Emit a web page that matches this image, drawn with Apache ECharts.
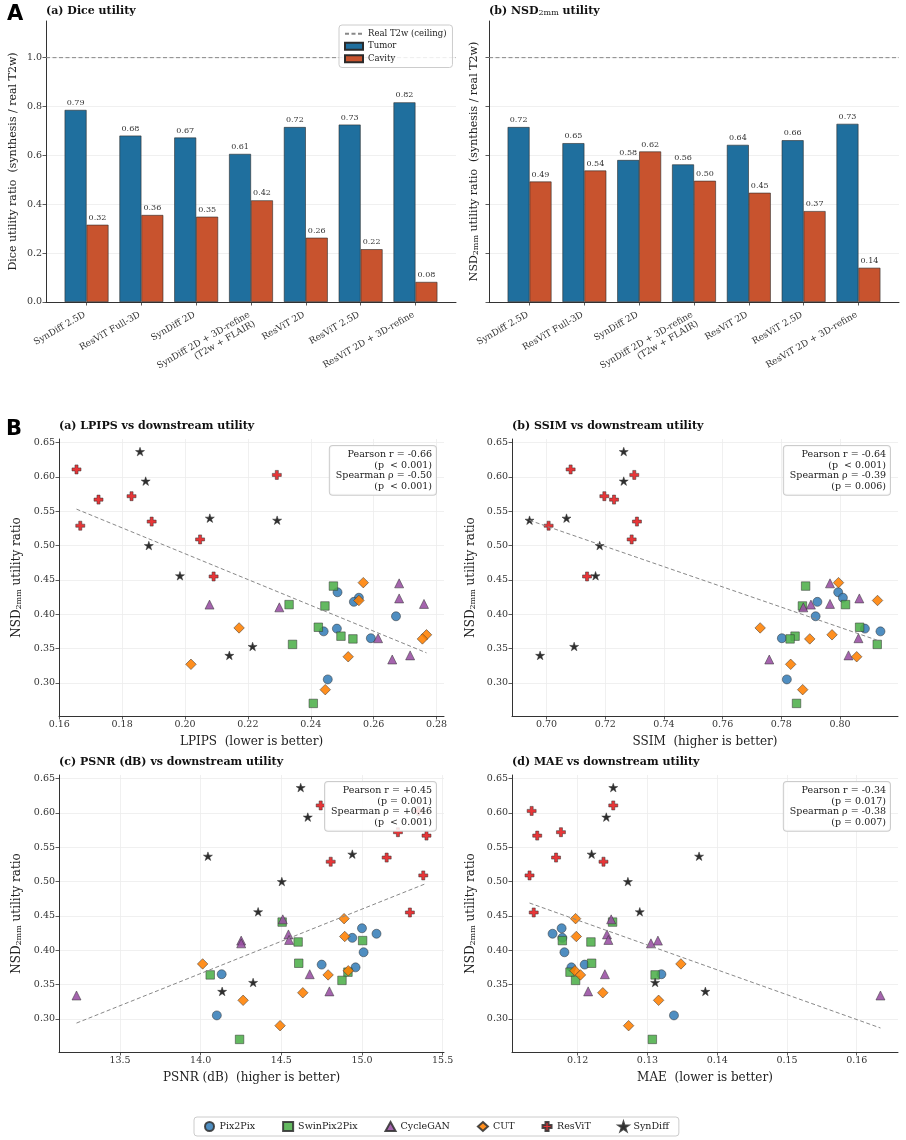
<!DOCTYPE html>
<html>
<head>
<meta charset="utf-8">
<title>Synthesis downstream utility</title>
<script src="https://cdn.jsdelivr.net/npm/echarts@6/dist/echarts.min.js"></script>
<style>
  html, body { margin: 0; padding: 0; background: #fff; }
  #chart { width: 906px; height: 1140px; }
</style>
</head>
<body>
<div id="chart"></div>
<script>
// ---- Panel A: segmentation utility of each synthesis pipeline ----
const methods = ['SynDiff 2.5D', 'ResViT Full-3D', 'SynDiff 2D', 'SynDiff 2D + 3D-refine\n(T2w + FLAIR)',
  'ResViT 2D', 'ResViT 2.5D', 'ResViT 2D + 3D-refine'];
const diceTumor = [0.786, 0.681, 0.673, 0.606, 0.716, 0.726, 0.817];
const diceCavity = [0.316, 0.356, 0.349, 0.416, 0.263, 0.216, 0.082];
const nsdTumor = [0.716, 0.650, 0.581, 0.563, 0.643, 0.662, 0.729];
const nsdCavity = [0.493, 0.538, 0.616, 0.496, 0.447, 0.372, 0.140];
const ceiling = 1.0;
const barYTicks = [0, 0.2, 0.4, 0.6, 0.8, 1.0];

// ---- Panel B: image metrics vs NSD2mm utility, per model (8 runs each) ----
const models = ['Pix2Pix', 'SwinPix2Pix', 'CycleGAN', 'CUT', 'ResViT', 'SynDiff'];

const pix2pixNsd = [0.432, 0.424, 0.418, 0.397, 0.379, 0.375, 0.365, 0.305];
const pix2pixLpips = [0.2485, 0.2553, 0.2537, 0.2671, 0.2483, 0.2441, 0.2591, 0.2454];
const pix2pixSsim = [0.7994, 0.8010, 0.7923, 0.7917, 0.8085, 0.8138, 0.7802, 0.7819];
const pix2pixPsnr = [15.00, 15.09, 14.94, 15.01, 14.75, 14.96, 14.13, 14.10];
const pix2pixMae = [0.1177, 0.1164, 0.1178, 0.1181, 0.1210, 0.1191, 0.1320, 0.1338];

const swinNsd = [0.441, 0.414, 0.412, 0.381, 0.368, 0.364, 0.356, 0.270];
const swinLpips = [0.2472, 0.2331, 0.2445, 0.2424, 0.2496, 0.2534, 0.2342, 0.2408];
const swinSsim = [0.7883, 0.8019, 0.7872, 0.8067, 0.7847, 0.7830, 0.8127, 0.7852];
const swinPsnr = [14.505, 15.004, 14.604, 14.608, 14.913, 14.059, 14.876, 14.241];
const swinMae = [0.1250, 0.1178, 0.1219, 0.1220, 0.1189, 0.1311, 0.1197, 0.1307];

const cycleganNsd = [0.445, 0.423, 0.415, 0.414, 0.410, 0.365, 0.340, 0.334];
const cycleganLpips = [0.2681, 0.2681, 0.2760, 0.2078, 0.2300, 0.2614, 0.2716, 0.2659];
const cycleganSsim = [0.7966, 0.8066, 0.7966, 0.7901, 0.7875, 0.8063, 0.8029, 0.7759];
const cycleganPsnr = [14.509, 14.544, 14.548, 14.251, 14.251, 14.676, 14.798, 13.23];
const cycleganMae = [0.1248, 0.1242, 0.1244, 0.1315, 0.1305, 0.1239, 0.1215, 0.1634];

const cutNsd = [0.446, 0.420, 0.380, 0.370, 0.364, 0.338, 0.327, 0.290];
const cutLpips = [0.2567, 0.2553, 0.2172, 0.2768, 0.2755, 0.2519, 0.2019, 0.2446];
const cutSsim = [0.7995, 0.8128, 0.7728, 0.7973, 0.7897, 0.8057, 0.7832, 0.7873];
const cutPsnr = [14.889, 14.893, 14.012, 14.915, 14.790, 14.633, 14.263, 14.492];
const cutMae = [0.1197, 0.1198, 0.1348, 0.1196, 0.1204, 0.1236, 0.1316, 0.1273];

const resvitNsd = [0.611, 0.603, 0.572, 0.567, 0.535, 0.529, 0.509, 0.455];
const resvitLpips = [0.1655, 0.2292, 0.1830, 0.1725, 0.1894, 0.1667, 0.2048, 0.2091];
const resvitSsim = [0.7082, 0.7299, 0.7197, 0.7230, 0.7308, 0.7007, 0.7290, 0.7138];
const resvitPsnr = [14.744, 15.35, 15.223, 15.40, 15.153, 14.806, 15.38, 15.297];
const resvitMae = [0.1251, 0.1134, 0.1176, 0.1142, 0.1169, 0.1237, 0.1131, 0.1137];

const syndiffNsd = [0.637, 0.594, 0.540, 0.537, 0.500, 0.456, 0.353, 0.340];
const syndiffLpips = [0.1857, 0.1875, 0.2079, 0.2293, 0.1885, 0.1984, 0.2215, 0.2141];
const syndiffSsim = [0.7263, 0.7263, 0.7068, 0.6942, 0.7181, 0.7167, 0.7094, 0.6978];
const syndiffPsnr = [14.62, 14.664, 14.94, 14.045, 14.503, 14.356, 14.325, 14.133];
const syndiffMae = [0.1251, 0.1241, 0.1220, 0.1374, 0.1272, 0.1289, 0.1311, 0.1383];

const nsdTicks = [0.30, 0.35, 0.40, 0.45, 0.50, 0.55, 0.60, 0.65];
const lpipsTicks = [0.16, 0.18, 0.20, 0.22, 0.24, 0.26, 0.28];
const ssimTicks = [0.70, 0.72, 0.74, 0.76, 0.78, 0.80];
const psnrTicks = [13.5, 14.0, 14.5, 15.0, 15.5];
const maeTicks = [0.12, 0.13, 0.14, 0.15, 0.16];

const lpipsStats = ['Pearson r = -0.66', '(p  < 0.001)', 'Spearman ρ = -0.50', '(p  < 0.001)'];
const ssimStats = ['Pearson r = -0.64', '(p  < 0.001)', 'Spearman ρ = -0.39', '(p = 0.006)'];
const psnrStats = ['Pearson r = +0.45', '(p = 0.001)', 'Spearman ρ = +0.46', '(p  < 0.001)'];
const maeStats = ['Pearson r = -0.34', '(p = 0.017)', 'Spearman ρ = -0.38', '(p = 0.007)'];

// ---- styling ----
const serif = 'DejaVu Serif';
const ink = '#333';
const tumorColor = '#1f6f9e';
const cavityColor = '#c8532e';

function starPath() {
  const pts = [];
  for (let k = 0; k < 10; k++) {
    const r = k % 2 === 0 ? 50 : 19.1;
    const a = -Math.PI / 2 + k * Math.PI / 5;
    pts.push((50 + r * Math.cos(a)).toFixed(2) + ',' + (50 + r * Math.sin(a)).toFixed(2));
  }
  return 'path://M' + pts.join('L') + 'Z';
}

const modelStyles = [
  { color: '#377eb8', symbol: 'circle', size: 9 },
  { color: '#4daf4a', symbol: 'rect', size: 8.5 },
  { color: '#984ea3', symbol: 'triangle', size: 9 },
  { color: '#ff7f00', symbol: 'diamond', size: 10.5 },
  { color: '#e41a1c', symbol: 'path://M33,0H67V33H100V67H67V100H33V67H0V33H33Z', size: 9 },
  { color: '#111111', symbol: starPath(), size: 9 }
];

const nsdByModel = [pix2pixNsd, swinNsd, cycleganNsd, cutNsd, resvitNsd, syndiffNsd];
const panels = [
  { values: [pix2pixLpips, swinLpips, cycleganLpips, cutLpips, resvitLpips, syndiffLpips],
    ticks: lpipsTicks, digits: 2, split: 6, name: 'LPIPS  (lower is better)',
    title: '(a) LPIPS vs downstream utility', stats: lpipsStats },
  { values: [pix2pixSsim, swinSsim, cycleganSsim, cutSsim, resvitSsim, syndiffSsim],
    ticks: ssimTicks, digits: 2, split: 6, name: 'SSIM  (higher is better)',
    title: '(b) SSIM vs downstream utility', stats: ssimStats },
  { values: [pix2pixPsnr, swinPsnr, cycleganPsnr, cutPsnr, resvitPsnr, syndiffPsnr],
    ticks: psnrTicks, digits: 1, split: 5, name: 'PSNR (dB)  (higher is better)',
    title: '(c) PSNR (dB) vs downstream utility', stats: psnrStats },
  { values: [pix2pixMae, swinMae, cycleganMae, cutMae, resvitMae, syndiffMae],
    ticks: maeTicks, digits: 2, split: 5, name: 'MAE  (lower is better)',
    title: '(d) MAE vs downstream utility', stats: maeStats }
];

const grids = [
  { left: 46, top: 21, width: 410, height: 281 },
  { left: 489, top: 21, width: 410, height: 281 },
  { left: 59, top: 439, width: 385, height: 277 },
  { left: 512, top: 439, width: 386, height: 277 },
  { left: 59, top: 775, width: 385, height: 277 },
  { left: 512, top: 775, width: 386, height: 277 }
];

function padded(arr, frac) {
  const lo = Math.min(...arr), hi = Math.max(...arr);
  const m = (hi - lo) * frac;
  return [lo - m, hi + m];
}

// bar x positions: groups at 0..6, each bar 0.4 wide, matplotlib-like 5% margins
const barW = 0.4;
const barExtent = padded([-barW, methods.length - 1 + barW], 0.05);
const barPx = barW * grids[0].width / (barExtent[1] - barExtent[0]);
const yExtent = padded(nsdByModel.flat(), 0.05);

const tickLabel = { fontFamily: serif, fontSize: 9.5, color: ink, margin: 4 };
const axisLine = { show: true, onZero: false, lineStyle: { color: ink, width: 1 } };
const axisTick = { show: true, length: 3.5, lineStyle: { color: ink, width: 0.8 } };
const faint = { show: true, lineStyle: { color: '#ececec', width: 0.8 } };
const nsdName = { fontFamily: serif, fontSize: 12, color: '#222',
  rich: { s: { fontFamily: serif, fontSize: 8, color: '#222', verticalAlign: 'bottom' } } };
const titleStyle = { fontFamily: serif, fontSize: 11, fontWeight: 'bold', color: '#111',
  rich: { s: { fontFamily: serif, fontSize: 8, fontWeight: 'normal', color: '#111', verticalAlign: 'bottom' } } };

const xAxes = [];
const yAxes = [];
const series = [];

// ---- bar panels ----
[0, 1].forEach(g => {
  const idx = methods.map((_, i) => i);
  xAxes.push({
    type: 'value', gridIndex: g, min: barExtent[0], max: barExtent[1],
    axisLine, axisTick: Object.assign({}, axisTick, { customValues: idx }),
    axisLabel: Object.assign({}, tickLabel, { customValues: idx, fontSize: 9, rotate: 30, margin: 5,
      verticalAlign: 'top', padding: [0, 5, 0, 0], formatter: v => methods[Math.round(v)], lineHeight: 10.5 }),
    splitLine: { show: false }
  });
  yAxes.push({
    type: 'value', gridIndex: g, min: 0, max: 1.15, interval: 0.2,
    name: g === 0 ? 'Dice utility ratio  (synthesis / real T2w)' : 'NSD{s|2mm} utility ratio  (synthesis / real T2w)',
    nameLocation: 'middle', nameGap: g === 0 ? 27 : 9,
    nameTextStyle: Object.assign({}, nsdName, { fontSize: 11 }),
    axisLine, axisTick: Object.assign({}, axisTick, { customValues: barYTicks }),
    axisLabel: Object.assign({}, tickLabel, { show: g === 0, customValues: barYTicks, formatter: v => v.toFixed(1) }),
    splitLine: faint
  });
  const tumor = g === 0 ? diceTumor : nsdTumor;
  const cavity = g === 0 ? diceCavity : nsdCavity;
  const barLabel = { show: true, position: 'top', distance: 3, fontFamily: serif, fontSize: 8, color: ink,
    formatter: p => p.value[1].toFixed(2) };
  series.push({
    name: 'Tumor', type: 'bar', xAxisIndex: g, yAxisIndex: g, barWidth: barPx, barGap: '-100%',
    data: tumor.map((v, i) => [i - barW / 2, v]),
    itemStyle: { color: tumorColor, borderColor: '#2b2b2b', borderWidth: 0.6 }, label: barLabel
  });
  series.push({
    name: 'Cavity', type: 'bar', xAxisIndex: g, yAxisIndex: g, barWidth: barPx, barGap: '-100%',
    data: cavity.map((v, i) => [i + barW / 2, v]),
    itemStyle: { color: cavityColor, borderColor: '#2b2b2b', borderWidth: 0.6 }, label: barLabel
  });
  series.push({
    name: 'Real T2w (ceiling)', type: 'line', xAxisIndex: g, yAxisIndex: g, symbol: 'none', silent: true,
    data: [[barExtent[0], ceiling], [barExtent[1], ceiling]],
    itemStyle: { color: '#888', opacity: 0 },
    lineStyle: { color: '#888', width: 1, type: [4, 2.5] }, z: 1
  });
});

// ---- scatter panels ----
panels.forEach((p, k) => {
  const g = k + 2;
  const xs = p.values.flat();
  const ys = nsdByModel.flat();
  const xExt = padded(xs, 0.05);
  xAxes.push({
    type: 'value', gridIndex: g, min: xExt[0], max: xExt[1], splitNumber: p.split,
    name: p.name, nameLocation: 'middle', nameGap: 20,
    nameTextStyle: { fontFamily: serif, fontSize: 12, color: '#222' },
    axisLine, axisTick: Object.assign({}, axisTick, { customValues: p.ticks }),
    axisLabel: Object.assign({}, tickLabel, { customValues: p.ticks, formatter: v => v.toFixed(p.digits) }),
    splitLine: faint
  });
  yAxes.push({
    type: 'value', gridIndex: g, min: yExtent[0], max: yExtent[1], splitNumber: 8,
    name: 'NSD{s|2mm} utility ratio', nameLocation: 'middle', nameGap: k % 2 === 0 ? 36 : 35,
    nameTextStyle: nsdName,
    axisLine, axisTick: Object.assign({}, axisTick, { customValues: nsdTicks }),
    axisLabel: Object.assign({}, tickLabel, { customValues: nsdTicks, formatter: v => v.toFixed(2) }),
    splitLine: faint
  });
  models.forEach((m, j) => {
    const st = modelStyles[j];
    series.push({
      name: m, type: 'scatter', xAxisIndex: g, yAxisIndex: g,
      symbol: st.symbol, symbolSize: st.size, symbolKeepAspect: true,
      data: p.values[j].map((x, i) => [x, nsdByModel[j][i]]),
      itemStyle: { color: st.color, borderColor: '#333', borderWidth: 0.6, opacity: 0.88 }, z: 3
    });
  });
  // least-squares trend line over all runs
  const n = xs.length;
  const mx = xs.reduce((a, b) => a + b, 0) / n;
  const my = ys.reduce((a, b) => a + b, 0) / n;
  let sxy = 0, sxx = 0;
  xs.forEach((x, i) => { sxy += (x - mx) * (ys[i] - my); sxx += (x - mx) * (x - mx); });
  const slope = sxy / sxx;
  const x0 = Math.min(...xs), x1 = Math.max(...xs);
  series.push({
    name: 'trend', type: 'line', xAxisIndex: g, yAxisIndex: g, symbol: 'none', silent: true,
    data: [[x0, my + slope * (x0 - mx)], [x1, my + slope * (x1 - mx)]],
    lineStyle: { color: '#888', width: 1, type: [4, 2.5] }, z: 4
  });
});

const statBoxes = panels.map((p, k) => {
  const gr = grids[k + 2];
  return {
    type: 'text', x: gr.left + gr.width - 8, y: gr.top + 7, z: 100,
    style: {
      text: p.stats.join('\n'), align: 'right', verticalAlign: 'top',
      fontFamily: serif, fontSize: 9.5, lineHeight: 10.7, fill: '#222',
      backgroundColor: 'rgba(255,255,255,0.85)', borderColor: '#cccccc', borderWidth: 1,
      borderRadius: 3, padding: [3, 4, 3, 6]
    }
  };
});

const letter = { fontFamily: 'DejaVu Sans', fontWeight: 'bold', fontSize: 21, color: '#000' };

const option = {
  animation: false,
  backgroundColor: '#fff',
  title: [
    { text: 'A', left: 7, top: 4, padding: 0, textStyle: letter },
    { text: 'B', left: 6, top: 419, padding: 0, textStyle: letter },
    { text: '(a) Dice utility', left: 46, top: 6, padding: 0, textStyle: titleStyle },
    { text: '(b) NSD{s|2mm} utility', left: 489, top: 6, padding: 0, textStyle: titleStyle }
  ].concat(panels.map((p, k) => ({
    text: p.title, left: grids[k + 2].left, top: grids[k + 2].top - 18, padding: 0, textStyle: titleStyle
  }))),
  legend: [
    {
      data: [
        { name: 'Real T2w (ceiling)', itemStyle: { opacity: 0 } },
        { name: 'Tumor', icon: 'rect' },
        { name: 'Cavity', icon: 'rect' }
      ],
      orient: 'vertical', left: 339, top: 25,
      itemWidth: 18, itemHeight: 7, itemGap: 3, selectedMode: false,
      textStyle: { fontFamily: serif, fontSize: 8.5, color: '#222', lineHeight: 9.5 },
      backgroundColor: 'rgba(255,255,255,0.85)', borderColor: '#cccccc', borderWidth: 1, borderRadius: 3,
      padding: [4, 6, 4, 5]
    },
    {
      data: models, orient: 'horizontal', left: 194, top: 1117,
      itemWidth: 10, itemHeight: 9, itemGap: 27, selectedMode: false,
      textStyle: { fontFamily: serif, fontSize: 9.5, color: '#222' },
      backgroundColor: '#fff', borderColor: '#cccccc', borderWidth: 1, borderRadius: 3,
      padding: [4, 10, 4, 10]
    }
  ],
  grid: grids,
  xAxis: xAxes,
  yAxis: yAxes,
  series,
  graphic: statBoxes
};

const chart = echarts.init(document.getElementById('chart'));
chart.setOption(option);
</script>
</body>
</html>
